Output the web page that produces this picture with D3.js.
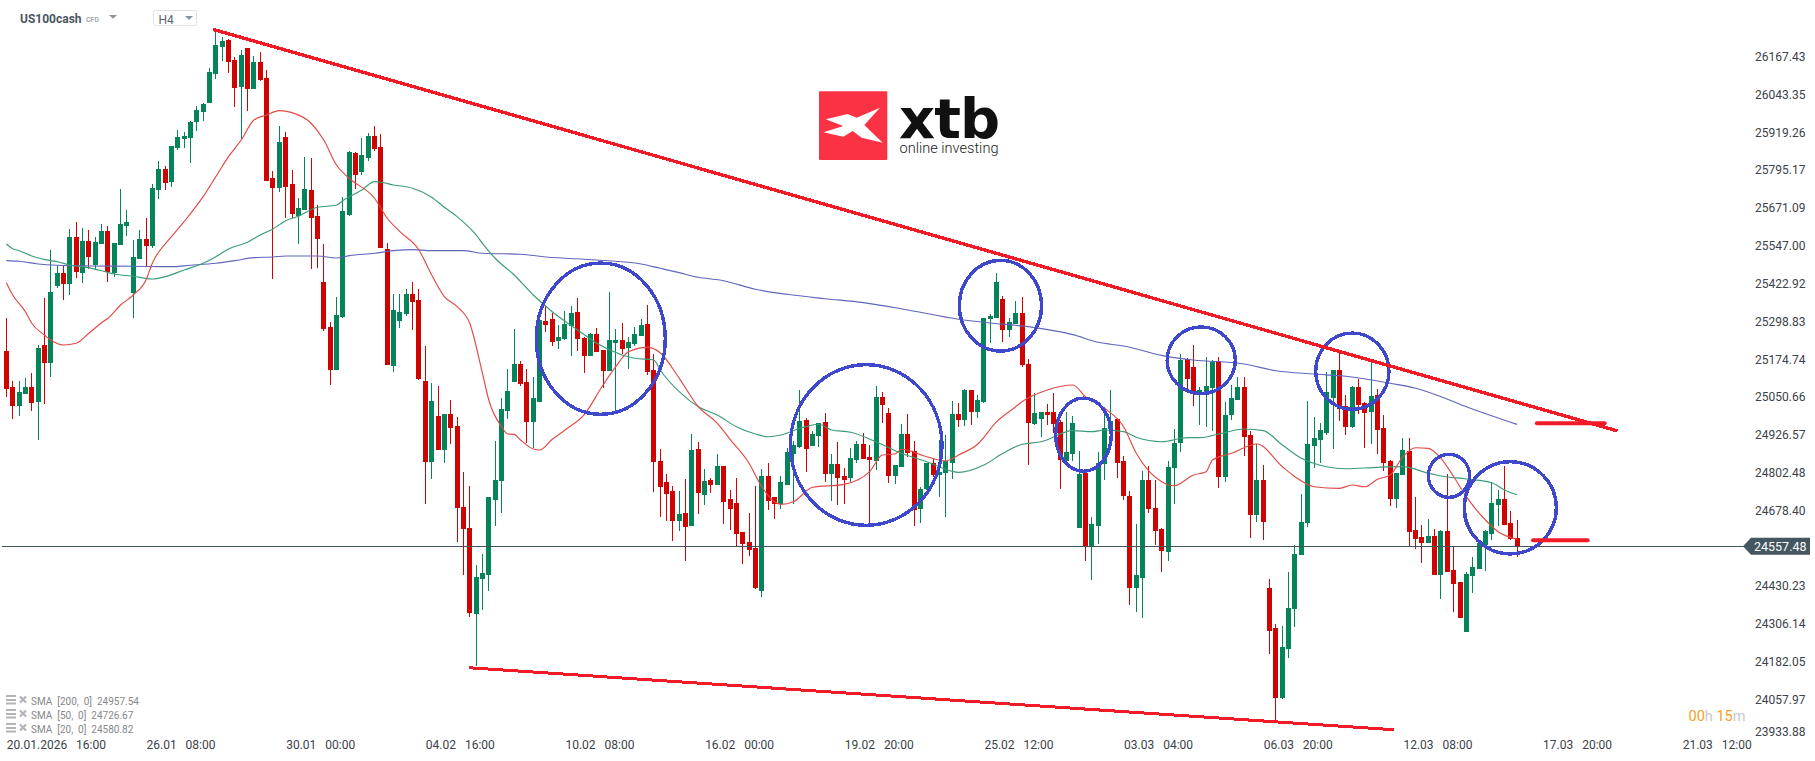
<!DOCTYPE html>
<html><head><meta charset="utf-8">
<script src="https://cdnjs.cloudflare.com/ajax/libs/d3/7.8.5/d3.min.js"></script>
<style>
html,body{margin:0;padding:0;background:#fff;overflow:hidden}
svg{display:block}
text{font-family:Roboto,sans-serif}
.xa text{white-space:pre;word-spacing:1.5px}
</style></head><body><div id="c"></div>
<script>
const opens=[25198,25080,25018,25057,25080,25031,25218,25159,25412,25454,
25418,25573,25454,25559,25481,25550,25592,25454,25546,25609,
25389,25500,25566,25543,25727,25796,25753,25865,25894,25897,
25950,25983,26012,26108,26196,26219,26153,26065,26193,26058,
26147,26094,25766,25733,25901,25747,25641,25661,25727,25641,
25425,25277,25136,25310,25645,25848,25786,25832,25904,25868,
25533,25149,25297,25320,25385,25366,25100,24834,24985,24873,
24992,24952,24686,24618,24335,24450,24463,24709,24772,25001,
25097,25156,25097,24965,25031,25297,25303,25231,25238,25280,
25326,25241,25182,25254,25202,25133,25225,25234,25208,25221,
25248,25287,25136,24837,24768,24739,24640,24667,24624,24877,
24726,24775,24759,24821,24713,24700,24604,24572,24552,24411,
24788,24719,24696,24759,24860,24883,24972,24887,24919,24965,
24795,24828,24788,24782,24841,24893,24851,24837,25047,24995,
24788,24818,24926,24870,24680,24746,24831,24791,24798,24831,
24992,24972,25070,24998,25031,25303,25307,25369,25267,25287,
25323,25156,24959,24975,24998,24998,24965,24837,24860,24618,
24798,24558,24624,24828,24942,24975,24837,24723,24421,24453,
24775,24683,24614,24539,24814,24896,25172,25146,25054,25064,
25077,25166,24785,24988,25038,25080,24923,24660,24775,24421,
24289,24060,24220,24352,24529,24634,24887,24906,24929,25044,
25136,25018,24949,25080,25028,24998,25054,24946,24837,24713,
24791,24870,24611,24588,24568,24591,24463,24608,24480,24440,
24276,24460,24483,24562,24598,24693,24713,24634,24585];
const highs=[25307,25100,25100,25110,25126,25218,25372,25530,25481,25477,
25599,25622,25602,25596,25573,25615,25609,25553,25730,25661,
25563,25596,25635,25747,25822,25806,25871,25924,25917,25953,
26003,26012,26127,26252,26229,26222,26163,26186,26193,26167,
26180,26121,25789,25937,25917,25792,25701,25835,25832,25678,
25550,25294,25376,25704,25855,25852,25897,25914,25937,25911,
25553,25385,25385,25402,25425,25402,25215,25093,25084,24992,
25038,24982,24801,24755,24496,24532,24719,24903,25044,25139,
25271,25166,25139,25113,25300,25349,25323,25284,25330,25346,
25372,25244,25257,25274,25202,25392,25271,25290,25244,25277,
25303,25349,25189,24877,24795,24755,24739,24778,24926,24900,
24811,24782,24860,24821,24742,24782,24604,24667,24755,24811,
24831,24719,24788,24880,24903,25070,24978,24936,24962,24995,
24860,24900,24814,24880,24903,24929,24890,25084,25064,25011,
24824,24959,24992,24903,24752,24831,24844,24906,24923,25034,
25028,25074,25070,25054,25307,25320,25454,25379,25307,25362,
25376,25172,25061,24998,25024,25061,24972,24998,24985,24870,
24798,24654,24867,25015,25070,24978,24854,24739,24631,24805,
24821,24775,24618,24837,24942,25189,25175,25218,25080,25179,
25169,25179,25031,25087,25113,25113,24936,24893,24824,24450,
24302,24296,24473,24562,24729,25034,24982,24962,25130,25136,
25195,25054,25084,25107,25031,25162,25074,24988,24841,24798,
24913,24913,24719,24627,24647,24614,24611,24795,24558,24440,
24473,24522,24568,24611,24768,24742,24821,24673,24644];
const lows=[25047,24975,24985,25057,25001,24906,25024,25113,25405,25366,
25382,25438,25422,25468,25464,25550,25425,25441,25546,25576,
25307,25500,25477,25536,25697,25727,25737,25858,25865,25815,
25920,25953,26012,26091,26150,26111,25999,25894,25986,26058,
26085,25756,25435,25720,25635,25635,25550,25661,25468,25471,
25264,25087,25136,25307,25641,25730,25776,25822,25855,25536,
25152,25130,25274,25313,25267,25103,24696,24778,24873,24831,
24893,24572,24463,24325,24165,24348,24411,24624,24667,24975,
25097,25084,24896,24880,25031,25261,25215,25205,25234,25182,
25198,25126,25182,25195,25077,25133,24995,25189,25139,25215,
25248,25120,24736,24654,24640,24575,24608,24509,24624,24664,
24693,24732,24759,24631,24611,24558,24499,24526,24417,24391,
24677,24647,24680,24759,24696,24880,24801,24887,24883,24768,
24706,24693,24696,24768,24831,24844,24624,24808,24962,24765,
24762,24818,24851,24624,24634,24742,24785,24719,24654,24778,
24949,24952,24955,24978,25028,25225,25307,25228,25244,25287,
25146,24824,24955,24916,24955,24929,24746,24837,24837,24618,
24509,24447,24565,24775,24936,24782,24709,24365,24342,24322,
24667,24562,24473,24509,24696,24867,25070,25018,24955,24949,
24936,24749,24768,24972,25038,24854,24585,24637,24578,24204,
23984,24056,24191,24293,24529,24621,24814,24831,24923,24877,
24969,24923,24946,24992,24880,24893,24860,24805,24690,24683,
24791,24558,24549,24503,24568,24463,24384,24473,24342,24322,
24276,24404,24483,24476,24578,24624,24627,24578,24522];
const closes=[25074,25018,25064,25080,25028,25208,25159,25392,25454,25418,
25573,25458,25559,25507,25556,25592,25458,25553,25615,25622,
25507,25566,25543,25733,25796,25750,25871,25901,25904,25950,
25989,26009,26114,26203,26216,26147,26062,26170,26058,26147,
26088,25756,25733,25884,25737,25648,25668,25730,25635,25566,
25271,25136,25317,25658,25852,25776,25842,25904,25861,25536,
25152,25333,25326,25385,25359,25107,24834,25034,24873,24992,
24946,24683,24614,24339,24457,24470,24719,24775,25008,25067,
25156,25090,24965,25044,25300,25284,25228,25244,25287,25323,
25238,25182,25254,25195,25133,25234,25234,25205,25228,25254,
25284,25130,24834,24752,24729,24640,24664,24621,24873,24732,
24772,24759,24821,24703,24680,24598,24565,24545,24421,24788,
24706,24696,24768,24867,24890,24969,24877,24926,24962,24795,
24828,24782,24775,24847,24893,24844,24841,25047,25021,24788,
24824,24926,24864,24677,24746,24831,24791,24801,24837,24992,
24972,25070,24998,25038,25307,25313,25425,25267,25294,25323,
25152,24962,24995,24998,24988,24959,24841,24867,24962,24795,
24558,24631,24831,24946,24969,24831,24723,24421,24463,24775,
24680,24608,24542,24818,24896,25169,25107,25061,25070,25084,
25162,24785,24988,25044,25080,24916,24660,24775,24637,24279,
24060,24227,24355,24532,24637,24893,24913,24939,25064,25136,
25008,24949,25080,25021,24995,25051,24939,24831,24713,24798,
24873,24604,24581,24568,24591,24463,24608,24473,24434,24322,
24467,24490,24568,24608,24700,24713,24627,24581,24557.48];

const sma200Idx=[1,3,6,9,14,21,27,30,34,37,40,43,45,50,53,55,59,62,65,68,73,76,82,86,94,101,104,107,110,114,119,124,130,136,143,151,156,162,169,173,177,184,188,196,201,207,212,219,223,227,231,239];
const sma200=[25494.8,25492.8,25484,25479.7,25477.4,25476.4,25475.1,25479.7,25486.3,25494.8,25504.6,25506.9,25510.2,25510.2,25503.6,25511.2,25519,25527.6,25530.9,25527.6,25527.6,25519,25515.8,25506.9,25497,25484,25469.8,25455.4,25440.3,25429.1,25400.9,25384.5,25370,25357,25333,25302.5,25290.3,25278.2,25252,25227,25214.8,25179.7,25168.9,25155.8,25133.7,25122.9,25115.4,25092.4,25076,25048.4,25015.6,24957.54];
const sma50Idx=[1,2,3,5,8,9,11,13,16,18,21,24,26,29,32,34,36,39,41,43,45,47,50,53,54,57,59,60,62,65,68,70,72,75,76,78,81,84,87,91,94,98,100,103,104,107,110,113,116,119,121,123,126,129,131,134,138,142,146,151,155,158,161,164,169,172,174,177,179,183,187,189,192,196,199,202,205,209,212,217,221,225,227,231,235,237,239];
const sma50=[25549.6,25534.2,25527.6,25510.2,25494.8,25491.5,25480.7,25475.1,25461.9,25451.1,25443.6,25434.7,25442.3,25464.3,25486.3,25507.9,25533.2,25555.2,25579.1,25598.8,25626.1,25640.5,25670,25676.6,25691.7,25726.8,25754,25752.1,25743.2,25732.4,25702.9,25670,25639.2,25579.1,25551.9,25502.7,25447.9,25382.2,25327.4,25267.3,25223.7,25185.3,25174.5,25168.9,25136.1,25064.8,25015.6,24988.4,24950,24926,24917.1,24922.7,24944.7,24957.9,24939.1,24931.6,24900.7,24862.7,24835.1,24800.3,24824.3,24862.7,24892.2,24900.7,24936.9,24933.6,24939.1,24933.6,24915.2,24900.7,24913.9,24913.9,24926,24942.4,24936.9,24890,24846.3,24818.7,24812.1,24816.7,24818.7,24797,24788.2,24778.3,24766.2,24742.2,24726.67];
const sma20Idx=[1,2,4,5,7,8,10,12,14,16,17,19,21,23,24,27,29,32,34,36,38,40,42,44,46,49,51,53,55,59,61,63,66,68,70,72,74,76,77,79,80,81,82,84,85,87,89,92,95,97,99,102,104,107,110,113,115,118,120,122,123,125,128,133,137,139,141,142,146,149,151,154,157,160,161,165,169,171,174,177,179,183,185,188,190,191,194,198,202,204,207,211,213,215,217,219,221,223,225,227,229,231,234,236,239];
const sma20=[25422.6,25382.2,25327.4,25289.3,25250.9,25234.5,25218.1,25223.7,25256.5,25291.3,25305.7,25349.4,25382.2,25431.4,25486.3,25573.5,25622.8,25704.8,25770.5,25836.1,25890.9,25956.6,25973,25987.1,25980.5,25945.7,25890.9,25808.9,25765.2,25699.6,25634,25590,25529.9,25447.9,25376.6,25343.8,25289.3,25125.2,25037.6,24950,24926,24925,24906.3,24876.8,24873.5,24908.6,24939.1,24988.4,25086.8,25146.9,25196.1,25210.5,25192.8,25108.8,25015.6,24960.9,24908.6,24829.8,24753,24703.8,24695.3,24703.8,24751.1,24760.9,24802.3,24857.1,24860.4,24875.8,24851.5,24837.4,24857.1,24892.2,24966.4,25015.6,25032,25070.4,25086.8,25048.4,25010.3,24950,24862.7,24769.4,24756.3,24791.4,24802.3,24840.7,24862.7,24893.2,24818.7,24785.9,24753,24747.8,24758.6,24753,24777.3,24791.4,24851.5,24881,24879,24846.3,24785.9,24720.3,24643.8,24605.4,24580.82];

const priceTicks=[26167.43,26043.35,25919.26,25795.17,25671.09,25547.00,25422.92,25298.83,25174.74,25050.66,24926.57,24802.48,24678.40,24430.23,24306.14,24182.05,24057.97,23933.88];
const timeTicks=[1,23,45,67,89,111,133,155,177,199,221,243,265];
const timeLabels=["20.01.2026  16:00","26.01  08:00","30.01  00:00","04.02  16:00","10.02  08:00","16.02  00:00","19.02  20:00","25.02  12:00","03.03  04:00","06.03  20:00","12.03  08:00","17.03  20:00","21.03  12:00"];
const lastPrice=24557.48;
const smaNames=["SMA  [200,  0]  24957.54","SMA  [50,  0]  24726.67","SMA  [20,  0]  24580.82"];
const trendIdx=[[33.55,254.8],[73.9,219.55]];
const trendPrice=[[26254,24936],[24159,23955.5]];
const levelIdx=[[242.1,252.8],[241.5,250.1]];
const levelPrice=[24961,24577];
const ringIdx=[94.64,136.45,157.6,170.68,189.23,213.03,228.26,237.92];
const ringPrice=[25238.8,24890,25347,24923.7,25168,25132.1,24788.8,24683.8];
const ringSpanIdx=[10.16,11.94,6.48,4.38,5.37,5.77,3.25,7.25];
const ringSpanPrice=[248.1,263.6,148.7,120.1,109.3,125.1,70.6,151.3];

const W=1815,H=761;
const x=d3.scaleLinear().domain([0,286]).range([0,286*6.348]);
const y=d3.scaleLinear().domain([24557.48,26167.43]).range([546.3,55.7]);
const svg=d3.select("#c").append("svg").attr("width",W).attr("height",H);
svg.append("rect").attr("width",W).attr("height",H).attr("fill","#fff");

const UP="#05835a",DOWN="#d00303";
const col=i=>closes[i]<opens[i]?DOWN:UP;
const cg=svg.append("g").attr("shape-rendering","crispEdges");
const idx=d3.range(opens.length);
cg.selectAll(".w").data(idx).join("rect").attr("class","w")
  .attr("x",i=>Math.round(x(i+1)-2.5)+2).attr("width",1)
  .attr("y",i=>y(highs[i])).attr("height",i=>y(lows[i])-y(highs[i])).attr("fill",col);
cg.selectAll(".b").data(idx).join("rect").attr("class","b")
  .attr("x",i=>Math.round(x(i+1)-2.5)).attr("width",5)
  .attr("y",i=>y(Math.max(opens[i],closes[i]))).attr("height",i=>Math.max(1,Math.abs(y(opens[i])-y(closes[i])))).attr("fill",col);

const maLine=d3.line().x(d=>x(d[0])).y(d=>y(d[1])).curve(d3.curveMonotoneX);
[[sma200Idx,sma200,"#6066bc"],[sma50Idx,sma50,"#3a9c78"],[sma20Idx,sma20,"#e04a44"]].forEach(([ix,v,c])=>{
  svg.append("path").attr("d",maLine(ix.map((k,j)=>[k,v[j]]))).attr("fill","none").attr("stroke",c).attr("stroke-width",1.15);
});

// current price line
svg.append("line").attr("x1",2).attr("x2",1744).attr("y1",y(lastPrice)).attr("y2",y(lastPrice))
  .attr("stroke","#43545e").attr("stroke-width",1).attr("shape-rendering","crispEdges");

// rings
svg.append("g").attr("shape-rendering","crispEdges").selectAll("ellipse").data(ringIdx).join("ellipse")
  .attr("cx",(d,i)=>x(d)).attr("cy",(d,i)=>y(ringPrice[i]))
  .attr("rx",(d,i)=>x(ringSpanIdx[i])-x(0)).attr("ry",(d,i)=>y(0)-y(ringSpanPrice[i]))
  .attr("fill","none").attr("stroke","#3f48cc").attr("stroke-width",3.4);

// trend lines and levels
const RED="#f01b27";
trendIdx.forEach((t,i)=>svg.append("line").attr("shape-rendering","crispEdges").attr("x1",x(t[0])).attr("x2",x(t[1]))
  .attr("y1",y(trendPrice[i][0])).attr("y2",y(trendPrice[i][1])).attr("stroke",RED).attr("stroke-width",i?3:3.4));
levelIdx.forEach((t,i)=>svg.append("line").attr("x1",x(t[0])).attr("x2",x(t[1]))
  .attr("y1",y(levelPrice[i])).attr("y2",y(levelPrice[i])).attr("stroke",RED).attr("stroke-width",4).attr("stroke-linecap","round"));

// price axis
const ya=svg.append("g").attr("class","ya").attr("transform","translate(1755,1)")
  .call(d3.axisRight(y).tickValues(priceTicks).tickFormat(d3.format(".2f")).tickSize(0).tickPadding(0));
ya.select(".domain").remove();
ya.selectAll("text").attr("font-size",12).attr("fill","#3b4249").attr("font-family","Roboto");
ya.selectAll(".tick").filter(d=>d===23933.88).attr("transform","translate(0,730.7)");

// time axis
const xa=svg.append("g").attr("class","xa").attr("transform","translate(0,740)")
  .call(d3.axisBottom(x).tickValues(timeTicks).tickFormat((d,i)=>timeLabels[i]).tickSize(0).tickPadding(0));
xa.select(".domain").remove();
xa.selectAll("text").attr("text-anchor","start").attr("font-size",12).attr("fill","#3b4249").attr("font-family","Roboto");

// last price tag
const ly=y(lastPrice);
svg.append("path").attr("d",`M1743 ${ly}L1751 ${ly-8.5}H1810V${ly+8.5}H1751Z`).attr("fill","#44565f");
svg.append("text").attr("x",1754).attr("y",ly+5).attr("font-size",12.5).attr("fill","#fff").text(lastPrice.toFixed(2));

// header
svg.append("text").attr("x",20).attr("y",22.5).attr("font-size",12).attr("font-weight",700).attr("fill","#4b5661").text("US100cash");
svg.append("text").attr("x",86).attr("y",22).attr("font-size",7).attr("font-weight",700).attr("fill","#a4a9ae").text("CFD");
svg.append("path").attr("d","M109 15h8l-4 3.8z").attr("fill","#8b939a");
svg.append("rect").attr("x",153.5).attr("y",10.5).attr("width",43).attr("height",15).attr("rx",2).attr("fill","#fff").attr("stroke","#e2e2e2");
svg.append("text").attr("x",158.5).attr("y",24).attr("font-size",12).attr("fill","#5a646c").text("H4");
svg.append("path").attr("d","M185 16h8l-4 4z").attr("fill","#8b939a");

// logo
const logo=svg.append("g");
logo.append("rect").attr("x",819).attr("y",91.3).attr("width",68.3).attr("height",68.7).attr("rx",1).attr("fill","#fb3244");
const pts=[[137,148],[203,132],[230,143],[300,113],[253,165],[308,218],[245,203],[218,183],[190,200],[130,187],[190,168]];
logo.append("polygon").attr("points",pts.map(p=>[780+p[0]/3,70+p[1]/3].join(",")).join(" ")).attr("fill","#fff");
logo.append("text").attr("x",899).attr("y",138.3).style("font-family","DejaVu Sans").attr("font-weight",700).attr("font-size",56).attr("fill","#111")
  .attr("textLength",101).attr("lengthAdjust","spacing").text("xtb");
logo.append("text").attr("x",899.5).attr("y",152.6).attr("font-size",14).attr("font-weight",300).attr("fill","#222")
  .attr("textLength",99).attr("lengthAdjust","spacingAndGlyphs").text("online investing");

// legend
const lg=svg.append("g");
smaNames.forEach((t,i)=>{
  const cy=700+14*i;
  lg.append("path").attr("d",`M6 ${cy-4}h10M6 ${cy}h10M6 ${cy+3.5}h10`).attr("stroke","#b4b4b4").attr("stroke-width",2);
  lg.append("path").attr("d",`M20 ${cy-3.5}l6 6M26 ${cy-3.5}l-6 6`).attr("stroke","#b4b4b4").attr("stroke-width",2.2);
  lg.append("text").attr("x",31).attr("y",cy+5).attr("font-size",10).attr("fill","#85888a").style("white-space","pre").text(t);
});

// candle timer
const tm=svg.append("text").attr("x",1688.5).attr("y",721).attr("font-size",14.5);
[["00","#f5a11e"],["h ","#c9c9c9"],["15","#f5a11e"],["m","#c9c9c9"]].forEach(([s,c])=>tm.append("tspan").attr("fill",c).style("white-space","pre").text(s));
</script></body></html>
